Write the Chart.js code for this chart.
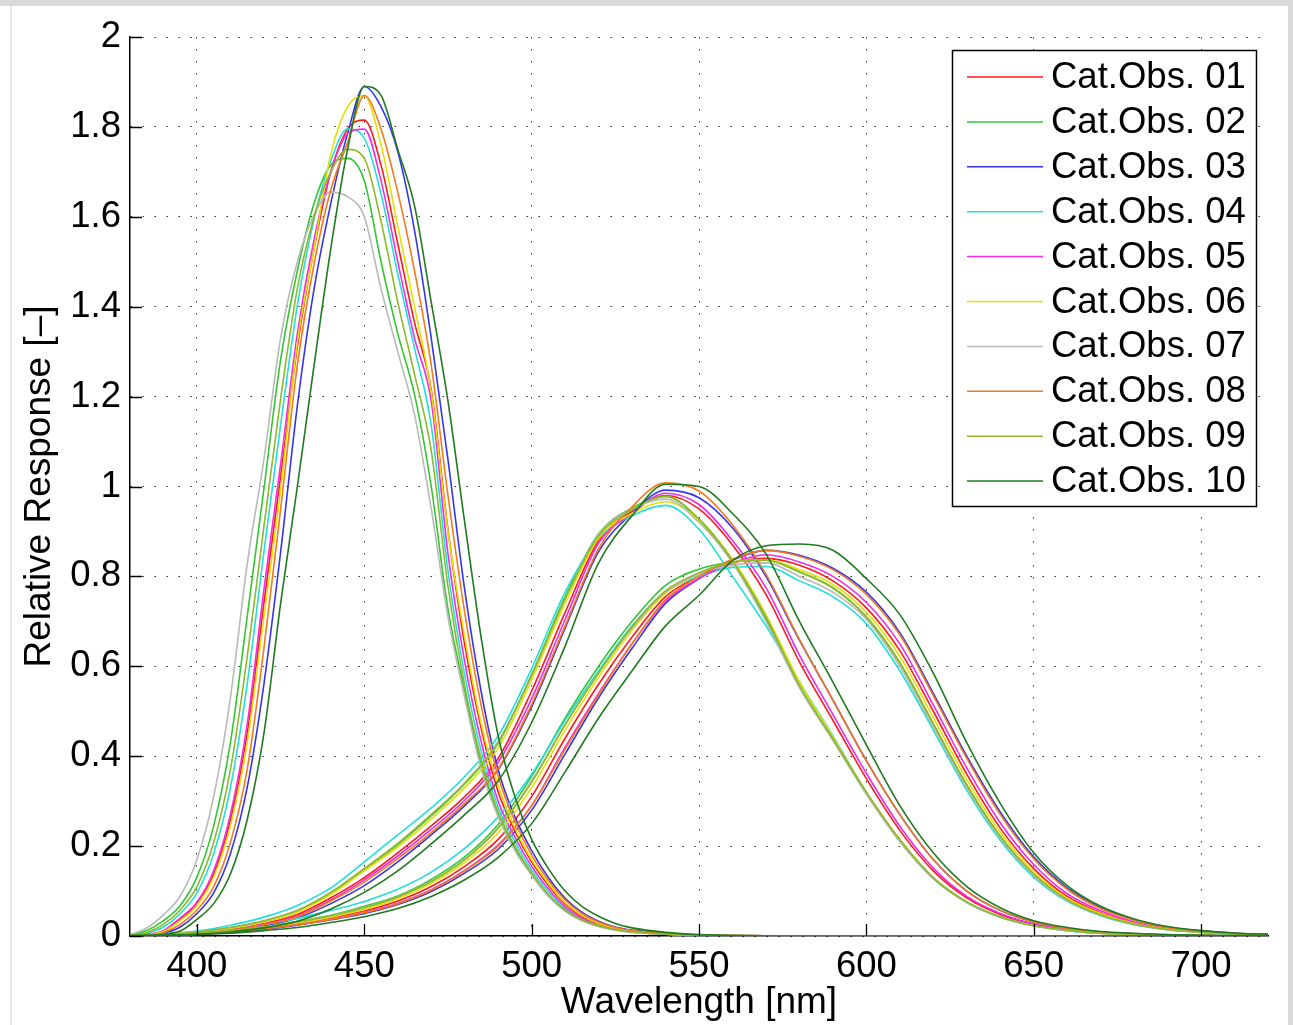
<!DOCTYPE html>
<html>
<head>
<meta charset="utf-8">
<title>Cone fundamentals of category observers</title>
<script src="https://cdn.jsdelivr.net/npm/chart.js@4.4.1/dist/chart.umd.min.js"></script>
<style>
  html, body { margin: 0; padding: 0; background: #fff; }
  #wrap { position: relative; width: 1293px; height: 1025px; overflow: hidden; }
  #wrap canvas { position: absolute; left: 0; top: 0; }
  .edge { position: absolute; background: #d9d9d9; z-index: 2; }
</style>
</head>
<body>
<div id="wrap">
  <canvas id="responseChart" width="1293" height="1025"></canvas>
  <div class="edge" style="left:0;top:0;width:1293px;height:6px"></div>
  <div class="edge" style="left:1288px;top:0;width:5px;height:1025px"></div>
  <div class="edge" style="left:10px;top:6px;width:2px;height:1019px;background:#e8e8e8"></div>
</div>
<script>
// Legend labels and line colours, one per category observer
const observerLabels = ["Cat.Obs. 01", "Cat.Obs. 02", "Cat.Obs. 03", "Cat.Obs. 04", "Cat.Obs. 05",
  "Cat.Obs. 06", "Cat.Obs. 07", "Cat.Obs. 08", "Cat.Obs. 09", "Cat.Obs. 10"];
const observerColors = ["#ff1a1a", "#33c633", "#3535f0", "#22dede", "#f22ce6",
  "#e6e000", "#b9b9b9", "#f37a1c", "#8fb82a", "#1f7a1f"];

// Wavelength grids [nm]: fine grid for the short-wave curves, 10 nm grid for the others
const sWavelengths = [380, 385, 390, 395, 400, 405, 410, 415, 420, 425, 430, 435, 440, 445, 450, 455,
  460, 465, 470, 475, 480, 485, 490, 495, 500, 505, 510, 515, 520, 525, 530, 540, 550, 560, 580, 600, 650, 720];
const mlWavelengths = [380, 390, 400, 410, 420, 430, 440, 450, 460, 470, 480, 490, 500, 510, 520, 530, 540,
  550, 560, 570, 580, 590, 600, 610, 620, 630, 640, 650, 660, 670, 680, 690, 700, 710, 720];

// Tick labels
const xTicks = [400, 450, 500, 550, 600, 650, 700];
const yTicks = [0, 0.2, 0.4, 0.6, 0.8, 1, 1.2, 1.4, 1.6, 1.8, 2];

// Short-wave (S) responses
const s01 = [0, .003, .011, .037, .072, .138, .258, .45, .74, 1.022, 1.311, 1.529, 1.70, 1.795, 1.815, 1.715,
  1.54, 1.365, 1.215, .904, .648, .459, .321, .233, .165, .113, .071, .044, .027, .017, .011, .005, .002, .001, 0, 0, 0, 0];
const s02 = [.002, .012, .034, .068, .131, .245, .43, .71, .994, 1.282, 1.48, 1.63, 1.715, 1.73, 1.68, 1.50,
  1.34, 1.205, 1.0, .727, .545, .38, .27, .195, .137, .09, .056, .035, .022, .014, .009, .004, .002, .001, 0, 0, 0, 0];
const s03 = [0, .001, .006, .02, .05, .096, .183, .33, .56, .854, 1.18, 1.44, 1.63, 1.785, 1.89, 1.845,
  1.745, 1.57, 1.33, 1.06, .77, .54, .37, .265, .19, .13, .084, .053, .033, .02, .013, .006, .002, .001, 0, 0, 0, 0];
const s04 = [0, .006, .02, .05, .096, .183, .33, .56, .854, 1.137, 1.403, 1.595, 1.725, 1.795, 1.775, 1.651,
  1.473, 1.308, 1.136, .812, .581, .409, .287, .21, .147, .099, .061, .038, .024, .015, .009, .004, .002, .001, 0, 0, 0, 0];
const s05 = [0, .004, .012, .04, .075, .145, .27, .47, .77, 1.05, 1.34, 1.55, 1.70, 1.785, 1.795, 1.68,
  1.50, 1.33, 1.19, .85, .61, .43, .30, .22, .155, .105, .065, .04, .025, .016, .01, .005, .002, .001, 0, 0, 0, 0];
const s06 = [0, .003, .01, .034, .068, .131, .245, .43, .71, .994, 1.32, 1.53, 1.74, 1.845, 1.87, 1.76,
  1.58, 1.40, 1.21, .90, .665, .47, .335, .24, .17, .117, .074, .046, .028, .018, .011, .005, .002, .001, 0, 0, 0, 0];
const s07 = [.003, .018, .047, .089, .17, .31, .53, .826, 1.06, 1.33, 1.50, 1.605, 1.655, 1.645, 1.60, 1.44,
  1.30, 1.16, .95, .71, .53, .37, .265, .19, .135, .088, .055, .034, .021, .013, .008, .004, .002, .001, 0, 0, 0, 0];
const s08 = [0, .002, .008, .026, .058, .11, .208, .37, .64, .95, 1.27, 1.495, 1.66, 1.765, 1.87, 1.795,
  1.655, 1.48, 1.27, .98, .72, .51, .355, .255, .18, .124, .08, .05, .031, .019, .012, .005, .002, .001, 0, 0, 0, 0];
const s09 = [.001, .008, .026, .058, .11, .208, .37, .62, .91, 1.195, 1.44, 1.60, 1.70, 1.75, 1.73, 1.59,
  1.41, 1.25, 1.08, .778, .556, .391, .276, .20, .14, .093, .058, .036, .023, .014, .009, .004, .002, .001, 0, 0, 0, 0];
const s10 = [0, 0, .004, .011, .037, .072, .138, .258, .45, .74, 1.0, 1.27, 1.53, 1.75, 1.89, 1.87,
  1.75, 1.625, 1.41, 1.19, .92, .66, .445, .31, .215, .15, .10, .066, .044, .028, .018, .008, .003, .001, 0, 0, 0, 0];

// Middle-wave (M) responses
const m01 = [.001, .003, .007, .015, .028, .048, .085, .13, .185, .245, .31, .395, .545, .72, .88, .945, .98,
  .95, .87, .76, .61, .48, .35, .235, .145, .085, .048, .026, .014, .007, .004, .002, .001, .0005, 0];
const m02 = [.002, .004, .009, .018, .033, .056, .096, .148, .203, .267, .338, .428, .582, .755, .895, .952, .978,
  .925, .832, .705, .555, .437, .317, .212, .128, .075, .042, .023, .012, .006, .004, .0015, .001, .0005, 0];
const m03 = [.001, .002, .005, .012, .023, .04, .072, .112, .165, .225, .29, .37, .51, .685, .855, .94, .992,
  .975, .908, .80, .658, .525, .39, .27, .17, .10, .057, .031, .017, .009, .005, .002, .001, .0005, 0];
const m04 = [.002, .005, .011, .024, .042, .068, .107, .165, .225, .285, .355, .445, .595, .765, .885, .935, .958,
  .905, .80, .69, .565, .445, .32, .21, .129, .075, .042, .023, .012, .006, .004, .0015, .001, .0005, 0];
const m05 = [.001, .003, .006, .014, .026, .044, .08, .125, .178, .237, .302, .386, .528, .704, .874, .94, .985,
  .96, .88, .775, .625, .493, .362, .244, .151, .088, .05, .027, .015, .0075, .0045, .002, .001, .0005, 0];
const m06 = [.001, .004, .008, .017, .031, .053, .092, .145, .198, .26, .33, .418, .57, .74, .885, .94, .966,
  .925, .838, .715, .566, .443, .32, .215, .13, .076, .043, .023, .013, .006, .004, .0015, .001, .0005, 0];
const m07 = [.002, .004, .009, .019, .034, .057, .097, .15, .205, .27, .34, .43, .58, .75, .893, .95, .972,
  .92, .83, .70, .552, .435, .315, .21, .127, .074, .042, .023, .012, .006, .004, .0015, .001, .0005, 0];
const m08 = [.001, .003, .006, .013, .025, .043, .078, .12, .172, .23, .295, .372, .515, .69, .862, .955, 1.008,
  .99, .915, .805, .66, .525, .39, .27, .17, .10, .057, .031, .017, .009, .005, .002, .001, .0005, 0];
const m09 = [.002, .004, .009, .019, .034, .057, .097, .15, .206, .27, .34, .432, .58, .75, .89, .948, .978,
  .928, .835, .71, .558, .439, .32, .214, .13, .076, .043, .023, .013, .006, .004, .0015, .001, .0005, 0];
const m10 = [.001, .002, .004, .009, .018, .033, .06, .097, .145, .205, .27, .345, .475, .645, .83, .935, 1.005,
  1.0, .94, .85, .70, .565, .425, .29, .185, .11, .063, .034, .019, .01, .006, .003, .0015, .001, .0005];

// Long-wave (L) responses
const l01 = [.001, .002, .005, .01, .017, .027, .04, .056, .078, .11, .155, .215, .31, .44, .56, .665, .755,
  .80, .83, .84, .825, .79, .73, .635, .50, .36, .24, .15, .088, .052, .029, .016, .009, .005, .003];
const l02 = [.001, .003, .007, .012, .021, .032, .046, .066, .089, .126, .176, .248, .355, .485, .60, .70, .78,
  .816, .832, .836, .81, .775, .71, .608, .472, .336, .222, .138, .081, .047, .026, .0145, .0082, .0046, .0026];
const l03 = [.001, .002, .004, .008, .015, .024, .036, .05, .07, .099, .14, .193, .28, .405, .53, .64, .74,
  .795, .836, .858, .847, .818, .765, .675, .54, .40, .276, .176, .107, .063, .036, .02, .0113, .0062, .0036];
const l04 = [.002, .004, .008, .015, .025, .039, .057, .077, .104, .142, .195, .265, .36, .48, .59, .69, .765,
  .80, .82, .822, .79, .755, .695, .59, .458, .324, .213, .131, .077, .045, .025, .014, .008, .0045, .0025];
const l05 = [.001, .002, .004, .009, .016, .025, .038, .053, .073, .103, .146, .203, .29, .42, .54, .65, .745,
  .795, .83, .848, .832, .80, .742, .65, .514, .374, .252, .159, .094, .056, .031, .017, .0097, .0054, .0032];
const l06 = [.001, .002, .006, .011, .019, .029, .042, .059, .083, .117, .164, .229, .33, .458, .576, .68, .762,
  .805, .832, .837, .815, .782, .72, .622, .486, .348, .231, .144, .084, .05, .0278, .0153, .0086, .0048, .0029];
const l07 = [.001, .003, .006, .012, .02, .031, .045, .064, .087, .122, .17, .24, .345, .47, .585, .685, .765,
  .805, .825, .83, .80, .765, .705, .60, .465, .33, .218, .135, .079, .046, .026, .014, .008, .0045, .0025];
const l08 = [.001, .002, .004, .009, .016, .025, .037, .052, .072, .102, .145, .20, .29, .415, .537, .65, .748,
  .80, .838, .858, .845, .815, .76, .67, .535, .395, .27, .172, .104, .061, .035, .019, .011, .006, .0035];
const l09 = [.001, .003, .006, .012, .02, .031, .045, .063, .087, .121, .17, .24, .342, .47, .585, .688, .768,
  .808, .832, .836, .81, .774, .71, .608, .472, .336, .222, .138, .081, .047, .026, .0145, .0082, .0046, .0026];
const l10 = [.001, .001, .003, .006, .012, .019, .03, .043, .061, .088, .125, .175, .25, .365, .485, .59, .69,
  .758, .835, .868, .872, .858, .795, .715, .585, .43, .295, .185, .112, .066, .038, .021, .012, .0068, .004];

// Axis ranges
const xRange = [380, 720];
const yRange = [0, 2];

const sCurves = [s01, s02, s03, s04, s05, s06, s07, s08, s09, s10];
const mCurves = [m01, m02, m03, m04, m05, m06, m07, m08, m09, m10];
const lCurves = [l01, l02, l03, l04, l05, l06, l07, l08, l09, l10];

const fontFamily = '"Liberation Sans", Arial, Helvetica, sans-serif';
Chart.defaults.font.family = fontFamily;
Chart.defaults.color = "#000";

function toPoints(xs, ys) {
  return xs.map((x, i) => ({ x: x, y: ys[i] }));
}

// three curves per observer; only the first one of each gets a legend entry
const datasets = [];
observerLabels.forEach((label, i) => {
  const curves = [
    [sWavelengths, sCurves[i]],
    [mlWavelengths, mCurves[i]],
    [mlWavelengths, lCurves[i]],
  ];
  curves.forEach(([xs, ys], k) => {
    datasets.push({
      label: label,
      data: toPoints(xs, ys),
      borderColor: observerColors[i],
      backgroundColor: observerColors[i],
      legendEntry: k === 0,
      order: 10 - i, // later observers on top
    });
  });
});

// boxed legend in the upper right corner of the plot
const boxedLegend = {
  id: "boxedLegend",
  afterDatasetsDraw(chart) {
    const ctx = chart.ctx;
    const area = chart.chartArea;
    const entries = chart.data.datasets.filter((d) => d.legendEntry);
    const boxW = 304, rowH = 44.9;
    const boxH = rowH * entries.length + 7;
    const left = area.right - 12 - boxW;
    const top = area.top + 13;
    ctx.save();
    ctx.fillStyle = "#fff";
    ctx.fillRect(left, top, boxW, boxH);
    ctx.strokeStyle = "#000";
    ctx.lineWidth = 1.5;
    ctx.strokeRect(left + 0.5, top + 0.5, boxW, boxH);
    ctx.font = "36.5px " + fontFamily;
    ctx.textBaseline = "middle";
    entries.forEach((d, i) => {
      const y = top + 27 + i * rowH;
      ctx.strokeStyle = d.borderColor;
      ctx.lineWidth = 1.5;
      ctx.beginPath();
      ctx.moveTo(left + 15, y);
      ctx.lineTo(left + 91, y);
      ctx.stroke();
      ctx.fillStyle = "#000";
      ctx.fillText(d.label, left + 99, y + 1);
    });
    ctx.restore();
  },
};

// MATLAB style tick marks pointing into the plot
const inwardTicks = {
  id: "inwardTicks",
  afterDraw(chart) {
    const { ctx, chartArea: a, scales } = chart;
    ctx.save();
    ctx.strokeStyle = "#000";
    ctx.lineWidth = 1.3;
    ctx.beginPath();
    scales.x.ticks.forEach((t) => {
      const px = Math.round(scales.x.getPixelForValue(t.value)) + 0.5;
      ctx.moveTo(px, a.bottom);
      ctx.lineTo(px, a.bottom - 12);
    });
    scales.y.ticks.forEach((t) => {
      const py = Math.round(scales.y.getPixelForValue(t.value)) + 0.5;
      ctx.moveTo(a.left, py);
      ctx.lineTo(a.left + 12, py);
    });
    ctx.stroke();
    ctx.restore();
  },
};

const dotted = [1.5, 10.5];

new Chart(document.getElementById("responseChart").getContext("2d"), {
  type: "line",
  data: { datasets: datasets },
  options: {
    responsive: false,
    animation: false,
    events: [],
    layout: { padding: { top: 37, right: 25, left: 0, bottom: 0 } },
    elements: {
      point: { radius: 0 },
      line: { borderWidth: 1.6, cubicInterpolationMode: "monotone", fill: false },
    },
    plugins: {
      legend: { display: false },
      tooltip: { enabled: false },
    },
    scales: {
      x: {
        type: "linear",
        min: xRange[0],
        max: xRange[1],
        ticks: {
          padding: 9,
          font: { size: 36.5 },
          callback: (v) => String(v),
        },
        grid: { color: "#333", lineWidth: 1, drawTicks: false },
        border: { display: true, color: "#000", width: 1.5, dash: dotted },
        title: {
          display: true,
          text: "Wavelength [nm]",
          font: { size: 37 },
          padding: { top: 0, bottom: 0 },
        },
        afterBuildTicks: (axis) => {
          axis.ticks = xTicks.map((v) => ({ value: v }));
        },
        afterFit: (axis) => {
          axis.height = 89;
        },
      },
      y: {
        type: "linear",
        min: yRange[0],
        max: yRange[1],
        ticks: {
          padding: 9,
          font: { size: 36.5 },
          callback: (v) => String(Math.round(v * 10) / 10),
        },
        grid: { color: "#333", lineWidth: 1, drawTicks: false },
        border: { display: true, color: "#000", width: 1.5, dash: dotted },
        title: {
          display: true,
          text: "Relative Response [–]",
          font: { size: 37 },
          padding: { top: 18, bottom: 0 },
        },
        afterBuildTicks: (axis) => {
          axis.ticks = yTicks.map((v) => ({ value: v }));
        },
        afterFit: (axis) => {
          axis.width = 130;
        },
      },
    },
  },
  plugins: [boxedLegend, inwardTicks],
});
</script>
</body>
</html>
